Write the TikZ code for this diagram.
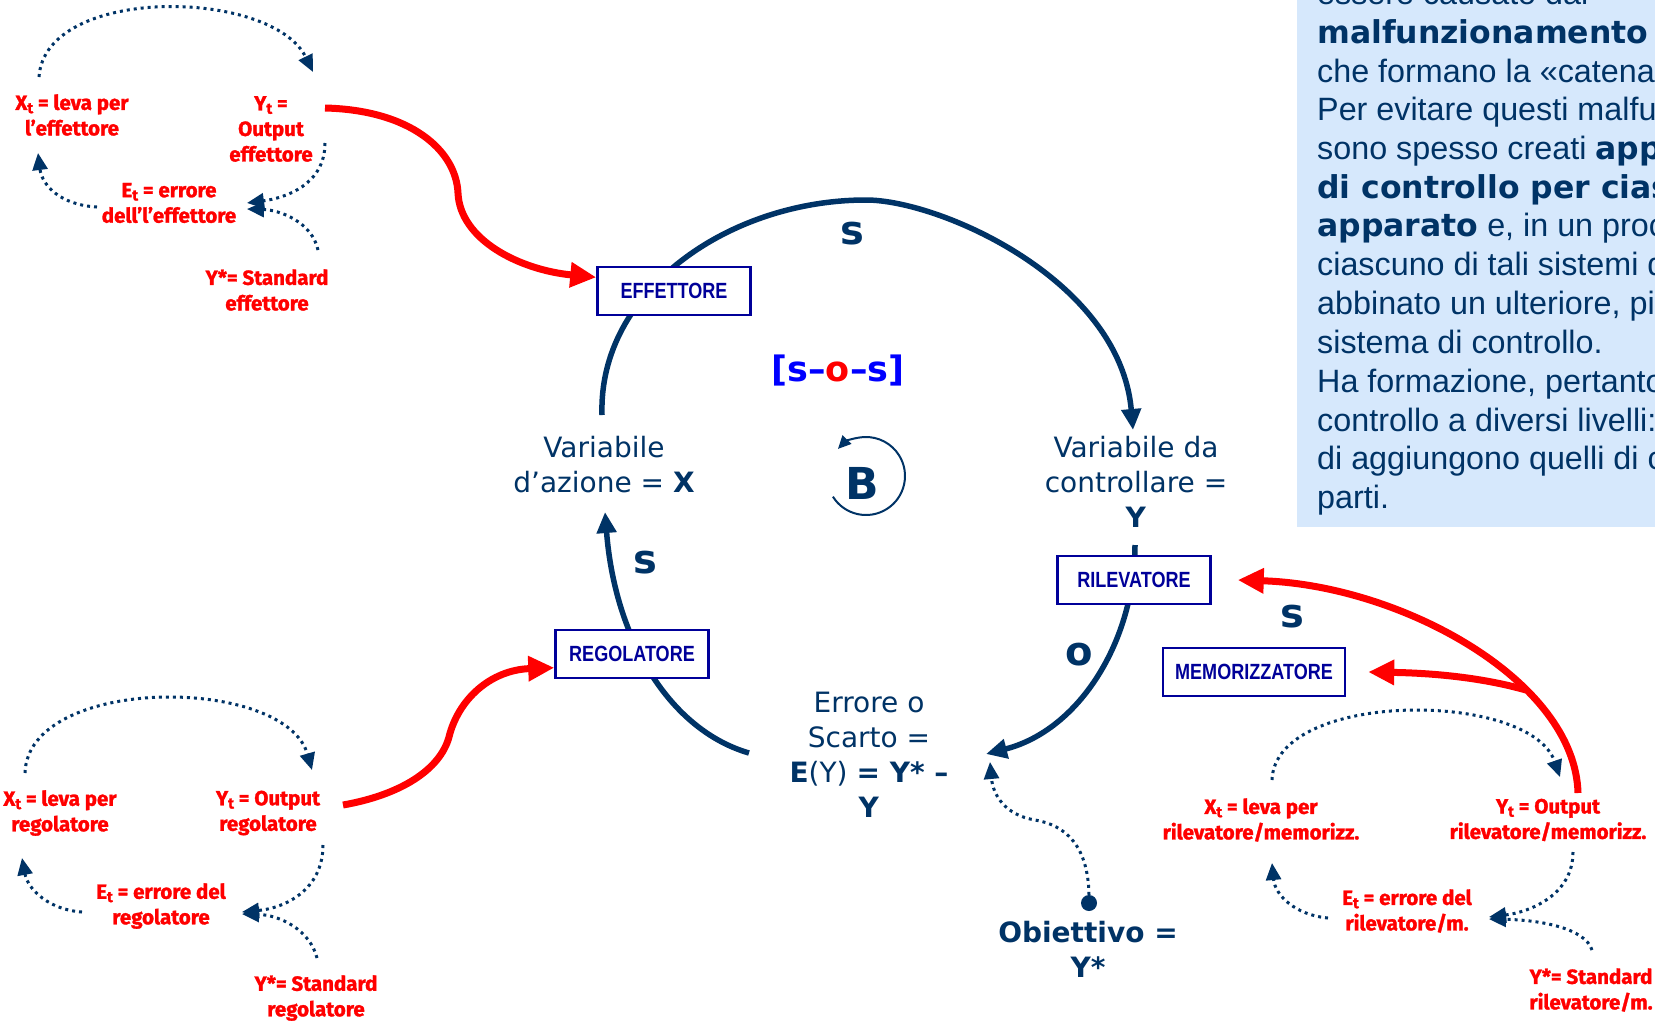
\documentclass[tikz,border=0pt]{standalone}
\usepackage{fontspec}
\setmainfont{DejaVu Sans}
\newfontfamily\dejav{DejaVu Sans}
\newfontfamily\arialf{Liberation Sans}
\newfontfamily\boxf[FakeStretch=0.82]{Liberation Sans}
\newfontfamily\redf[BoldFeatures={FakeBold=1.4}]{Fira Sans}
\usetikzlibrary{arrows.meta}

\definecolor{navy}{RGB}{0,51,102}
\definecolor{boxblue}{RGB}{0,0,153}
\definecolor{sosblue}{RGB}{0,0,255}
\definecolor{panelbg}{RGB}{214,232,252}

% lowered subscript t used in the red labels
\newcommand\tsub{\raisebox{-0.3ex}{\fontsize{15}{15}\selectfont t}}
% bold run inside the panel text
\newcommand\pbold[1]{{\dejav\bfseries\fontsize{31.5}{39}\selectfont #1}}

\tikzset{
  lbl/.style={align=center, text=navy, inner sep=0pt,
    font=\fontsize{28}{35}\selectfont},
  redlbl/.style={align=center, text=red, inner sep=0pt,
    font=\redf\bfseries\fontsize{20.5}{25.5}\selectfont},
  unit/.style={draw=boxblue, line width=2.5pt, fill=white, text=boxblue,
    font=\boxf\bfseries\fontsize{22}{22}\selectfont,
    minimum width=153pt, minimum height=48pt, inner sep=0pt},
  polarity/.style={text=navy, inner sep=0pt,
    font=\bfseries\fontsize{40}{40}\selectfont},
  mainarc/.style={draw=navy, line width=5.5pt,
    -{Triangle[length=21pt,width=19pt]}},
  feed/.style={draw=red, line width=7pt,
    -{Triangle[length=26pt,width=24pt]}},
  dots/.style={draw=navy, line width=3pt, dash pattern=on 3pt off 4pt,
    -{Triangle[length=17pt,width=15pt]}},
  paneltxt/.style={anchor=base west, inner sep=0pt, text=navy,
    font=\arialf\fontsize{32.3}{39}\selectfont}
}

\begin{document}
\begin{tikzpicture}[x=1pt,y=-1pt]
\useasboundingbox (0,0) rectangle (1655,1021);
\fill[white] (0,0) rectangle (1655,1021);

% ---------- explanatory panel ----------
\begin{scope}
  \clip (1297,0) rectangle (1655,527);
  \fill[panelbg] (1297,0) rectangle (1655,527);
  \node[paneltxt] (p1)  at (1317,4)   {essere causato dal};
  \node[paneltxt] (p2)  at (1317,43)  {\pbold{malfunzionamento degli}};
  \node[paneltxt] (p3)  at (1317,82)  {che formano la «catena»};
  \node[paneltxt] (p4)  at (1317,120) {Per evitare questi malfunzionamenti};
  \node[paneltxt] (p5)  at (1317,159) {sono spesso creati \pbold{apparati}};
  \node[paneltxt] (p6)  at (1317,198) {\pbold{di controllo per ciascun}};
  \node[paneltxt] (p7)  at (1317,236) {\pbold{apparato} e, in un processo};
  \node[paneltxt] (p8)  at (1317,275) {ciascuno di tali sistemi di};
  \node[paneltxt] (p9)  at (1317,314) {abbinato un ulteriore, più};
  \node[paneltxt] (p10) at (1317,353) {sistema di controllo.};
  \node[paneltxt] (p11) at (1317,392) {Ha formazione, pertanto, una};
  \node[paneltxt] (p12) at (1317,431) {controllo a diversi livelli: ai};
  \node[paneltxt] (p13) at (1317,469) {di aggiungono quelli di controllo};
  \node[paneltxt] (p14) at (1317,508) {parti.};
\end{scope}

% ---------- main loop ----------
\coordinate (xTop)   at (602,415);
\coordinate (yTop)   at (1133,430);
\coordinate (yLow)   at (1135,545);
\coordinate (eRight) at (986,754);
\coordinate (eLeft)  at (749,753);
\coordinate (xLow)   at (605,512);

\draw[mainarc] (xTop) .. controls (598,290) and (730,200) .. (866,200)
  .. controls (940,200) and (1120,280) .. (yTop);
\draw[mainarc] (yLow) .. controls (1135,640) and (1080,730) .. (eRight);
\draw[mainarc] (eLeft) .. controls (670,730) and (615,640) .. (xLow);

\node[unit] (EFF) at (674,291) {EFFETTORE};
\node[unit] (REG) at (632,654) {REGOLATORE};
\node[unit] (RIL) at (1134,580) {RILEVATORE};
\node[unit, minimum width=182pt] (MEM) at (1254,672) {MEMORIZZATORE};

\node[lbl] (VarX) at (604,465) {Variabile\\d’azione = \textbf{X}};
\node[lbl] (VarY) at (1136,482) {Variabile da\\controllare =\\\textbf{Y}};
\node[lbl] (Err)  at (869,755) {Errore o\\Scarto =\\\textbf{E}(Y) \textbf{= Y* –}\\\textbf{Y}};
\node[lbl] (Obj)  at (1088,949) {\textbf{Obiettivo =}\\\textbf{Y*}};

\node[polarity] (sTop) at (852,234) {s};
\node[polarity] (sLow) at (645,563) {s};
\node[polarity] (oRil) at (1079,655) {o};
\node[polarity] (sMem) at (1292,617) {s};

\node[inner sep=0pt, font=\bfseries\fontsize{35}{35}\selectfont] (sos) at (838,371)
  {\textcolor{sosblue}{[s–}\textcolor{red}{o}\textcolor{sosblue}{–s]}};

% balancing loop marker
\coordinate (loopc) at (866,476);
\node[text=navy, inner sep=0pt, font=\bfseries\fontsize{44}{44}\selectfont] (B) at (862,483) {B};
\draw[navy, line width=2pt, -{Triangle[length=13pt,width=12pt]}]
  (loopc) ++(148:39) arc[start angle=148, end angle=-136, radius=39];

% target feeding the error
\node[circle, fill=navy, minimum size=16pt, inner sep=0pt] (dot) at (1089,903) {};
\coordinate (eDot) at (990,762);
\draw[dots] (dot.north) .. controls (1088,845) and (1065,825) .. (1035,820)
  .. controls (1005,815) and (993,795) .. (eDot);

% ---------- sub-loop of the effector ----------
\node[redlbl] (tlX) at (72,115)  {X\tsub{} = leva per\\l’effettore};
\node[redlbl] (tlY) at (271,129) {Y\tsub{} =\\Output\\effettore};
\node[redlbl] (tlE) at (169,203) {E\tsub{} = errore\\dell’l’effettore};
\node[redlbl] (tlS) at (267,290) {Y*= Standard\\effettore};

\coordinate (tl1a) at (39,77);   \coordinate (tl1b) at (313,72);
\coordinate (tl2a) at (325,143); \coordinate (tl2b) at (247,203);
\coordinate (tl3a) at (318,250); \coordinate (tl3b) at (247,209);
\coordinate (tl4a) at (97,207);  \coordinate (tl4b) at (38,153);
\draw[dots] (tl1a) .. controls (45,-15) and (272,-12) .. (tl1b);
\draw[dots] (tl2a) .. controls (325,185) and (285,198) .. (tl2b);
\draw[dots] (tl3a) .. controls (312,222) and (280,210) .. (tl3b);
\draw[dots] (tl4a) .. controls (60,205) and (42,185) .. (tl4b);

\coordinate (tlOut) at (325,108);
\draw[feed] (tlOut) .. controls (410,110) and (456,150) .. (458,193)
  .. controls (460,240) and (520,270) .. (EFF.170);

% ---------- sub-loop of the regulator ----------
\node[redlbl] (blX) at (60,813)  {X\tsub{} = leva per\\regolatore};
\node[redlbl] (blY) at (268,813) {Y\tsub{} = Output\\regolatore};
\node[redlbl] (blE) at (161,906) {E\tsub{} = errore del\\regolatore};
\node[redlbl] (blS) at (316,998) {Y*= Standard\\regolatore};

\coordinate (bl1a) at (25,773);  \coordinate (bl1b) at (312,770);
\coordinate (bl2a) at (323,845); \coordinate (bl2b) at (242,912);
\coordinate (bl3a) at (317,958); \coordinate (bl3b) at (242,914);
\coordinate (bl4a) at (82,912);  \coordinate (bl4b) at (22,858);
\draw[dots] (bl1a) .. controls (28,675) and (285,675) .. (bl1b);
\draw[dots] (bl2a) .. controls (323,890) and (285,908) .. (bl2b);
\draw[dots] (bl3a) .. controls (310,930) and (280,915) .. (bl3b);
\draw[dots] (bl4a) .. controls (50,910) and (28,890) .. (bl4b);

\coordinate (blOut) at (343,805);
\draw[feed] (blOut) .. controls (400,795) and (440,770) .. (449,737)
  .. controls (458,700) and (490,670) .. (REG.190);

% ---------- sub-loop of the sensor / memory ----------
\node[redlbl] (brX) at (1261,820) {X\tsub{} = leva per\\rilevatore/memorizz.};
\node[redlbl] (brY) at (1548,820) {Y\tsub{} = Output\\rilevatore/memorizz.};
\node[redlbl] (brE) at (1407,911) {E\tsub{} = errore del\\rilevatore/m.};
\node[redlbl] (brS) at (1591,990) {Y*= Standard\\rilevatore/m.};

\coordinate (br1a) at (1272,780); \coordinate (br1b) at (1560,777);
\coordinate (br2a) at (1573,852); \coordinate (br2b) at (1489,917);
\coordinate (br3a) at (1592,950); \coordinate (br3b) at (1489,919);
\coordinate (br4a) at (1328,918); \coordinate (br4b) at (1272,863);
\draw[dots] (br1a) .. controls (1275,690) and (1530,690) .. (br1b);
\draw[dots] (br2a) .. controls (1573,895) and (1530,912) .. (br2b);
\draw[dots] (br3a) .. controls (1585,928) and (1540,920) .. (br3b);
\draw[dots] (br4a) .. controls (1295,915) and (1275,895) .. (br4b);

\coordinate (brOut) at (1578,793);
\coordinate (brJoin) at (1526,690);
\draw[feed] (brOut) .. controls (1575,680) and (1400,585) .. ([xshift=26pt]RIL.east);
\draw[feed] (brJoin) .. controls (1480,677) and (1430,673) .. ([xshift=22pt]MEM.east);
\end{tikzpicture}
\end{document}
